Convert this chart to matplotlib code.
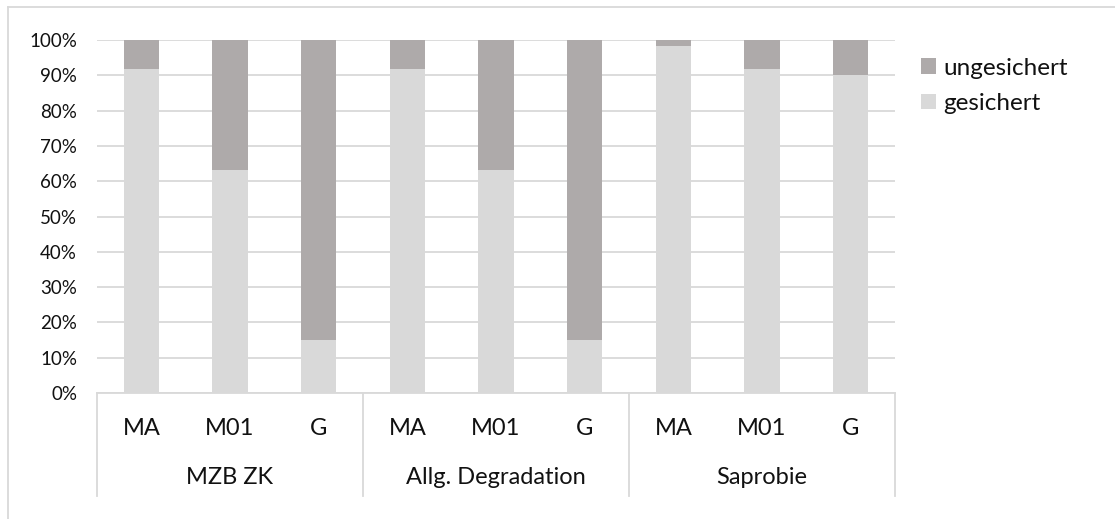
import numpy as np
import matplotlib.pyplot as plt
import matplotlib.transforms as mtransforms
from matplotlib.lines import Line2D

plt.rcParams['font.family'] = ['Lato', 'DejaVu Sans']

gruppen = ['MZB ZK', 'Allg. Degradation', 'Saprobie']
kategorien = ['MA', 'M01', 'G']
# Anteile in Prozent, je Gruppe MA, M01, G
gesichert = [91.7, 63.3, 15.0, 91.7, 63.3, 15.0, 98.3, 91.7, 90.0]
ungesichert = [8.3, 36.7, 85.0, 8.3, 36.7, 85.0, 1.7, 8.3, 10.0]

hell = '#d9d9d9'
dunkel = '#aeaaaa'
linie = '#d9d9d9'
text = '#111111'

fig = plt.figure(figsize=(11.15, 5.19), dpi=100)
ax = fig.add_axes([97 / 1115, 126 / 519, 798 / 1115, 353 / 519])

x = np.arange(len(gesichert))
ax.bar(x, gesichert, width=0.4, color=hell, label='gesichert', zorder=2)
ax.bar(x, ungesichert, width=0.4, bottom=gesichert, color=dunkel,
       label='ungesichert', zorder=2)

ax.set_xlim(-0.5, len(x) - 0.5)
ax.set_ylim(0, 100)
ax.set_yticks(np.arange(0, 101, 10))
ax.set_yticklabels([f'{v}%' for v in range(0, 101, 10)])
ax.yaxis.grid(True, color=linie, linewidth=1.3, zorder=0)
ax.tick_params(axis='y', length=0, pad=14.4, labelsize=13.5, labelcolor=text)
ax.set_xticks([])
for s in ['left', 'right', 'top']:
    ax.spines[s].set_visible(False)
ax.spines['bottom'].set_color(linie)
ax.spines['bottom'].set_linewidth(1.3)

# zweistufige Achsenbeschriftung
trans = mtransforms.blended_transform_factory(ax.transData, ax.transAxes)
for i, xi in enumerate(x):
    ax.text(xi, -0.10, kategorien[i % 3], transform=trans, ha='center',
            va='center', fontsize=17, color=text)
for g, name in enumerate(gruppen):
    ax.text(g * 3 + 1, -0.24, name, transform=trans, ha='center',
            va='center', fontsize=17, color=text)
for g in range(len(gruppen) + 1):
    ax.add_line(Line2D([g * 3 - 0.5, g * 3 - 0.5], [0, -0.292], transform=trans,
                       color=linie, linewidth=1.3, clip_on=False))

# Rahmen links und oben
fig.add_artist(Line2D([8 / 1115, 8 / 1115], [0, 1 - 7 / 519],
                      transform=fig.transFigure, color=linie, linewidth=1.3))
fig.add_artist(Line2D([8 / 1115, 1], [1 - 7 / 519, 1 - 7 / 519],
                      transform=fig.transFigure, color=linie, linewidth=1.3))

handles, labels = ax.get_legend_handles_labels()
leg = ax.legend(handles[::-1], labels[::-1], loc='upper left',
                bbox_to_anchor=(1.0326, 0.95), frameon=False, fontsize=17.5,
                handlelength=0.62, handleheight=0.62, handletextpad=0.3,
                labelspacing=0.59, borderaxespad=0, borderpad=0)
for t in leg.get_texts():
    t.set_color(text)

fig.savefig('out.png', dpi=100)
